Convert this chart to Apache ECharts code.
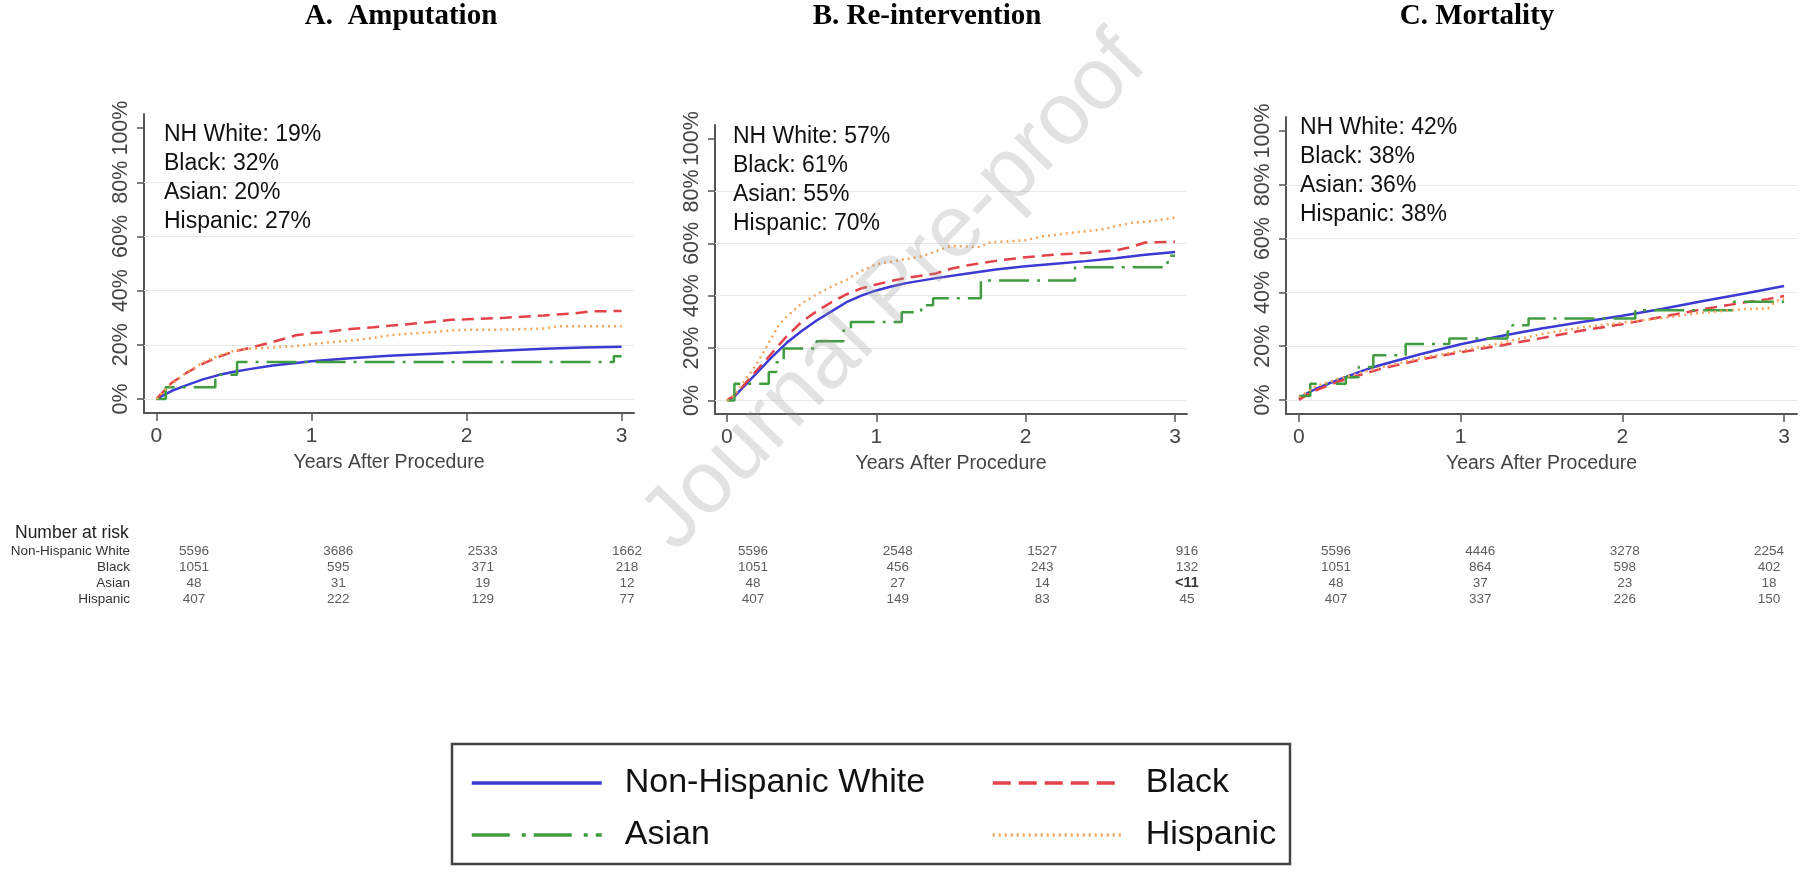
<!DOCTYPE html>
<html><head><meta charset="utf-8">
<script src="https://cdn.jsdelivr.net/npm/echarts@6/dist/echarts.min.js"></script>
<style>html,body{margin:0;padding:0;background:#fff}#c{width:1800px;height:878px}</style>
</head><body><div id="c"></div><script>
// ---------- data ----------
const groupNames = ['Non-Hispanic White', 'Black', 'Asian', 'Hispanic'];
const shortNames = ['NH White', 'Black', 'Asian', 'Hispanic'];
const panelTitles = ['A.  Amputation', 'B. Re-intervention', 'C. Mortality'];
const xTicks = [0, 1, 2, 3];
const yTicks = [0, 20, 40, 60, 80, 100];
const gridValues = [0, 20, 40, 60, 80];
const riskTimes = [0, 1, 2, 3];

const finalAmputation = [19, 32, 20, 27];
const finalReintervention = [57, 61, 55, 70];
const finalMortality = [42, 38, 36, 38];

// cumulative incidence (years, %)
const ampNHW = [[0,0],[0.05,1.5],[0.1,3],[0.2,5.2],[0.3,7.2],[0.4,8.8],[0.5,10],[0.6,11],[0.75,12.3],[0.9,13.3],[1.0,13.9],[1.25,15],[1.5,15.9],[1.75,16.6],[2.0,17.2],[2.25,17.9],[2.5,18.5],[2.75,19],[3.0,19.3]];
const ampBlack = [[0,0],[0.05,3],[0.1,6],[0.2,9.8],[0.3,13],[0.4,15.5],[0.5,17.5],[0.6,18.8],[0.75,21],[0.9,23.5],[1.0,24.3],[1.1,24.8],[1.25,25.8],[1.4,26.5],[1.6,27.5],[1.75,28.3],[1.9,29.2],[2.0,29.4],[2.25,30],[2.5,30.8],[2.7,31.6],[2.8,32.3],[3.0,32.5]];
const ampAsian = [[0,0],[0.06,4.3],[0.38,8.9],[0.52,13.6],[2.95,15.8],[3.0,15.8]];
const ampHisp = [[0,0],[0.05,3],[0.1,5.5],[0.2,10],[0.3,13.5],[0.4,16],[0.5,17.8],[0.6,18.5],[0.75,19],[0.9,19.5],[1.0,20.2],[1.1,20.8],[1.25,21.5],[1.4,22.5],[1.5,23.5],[1.6,24],[1.75,24.5],[1.9,25.3],[2.0,25.5],[2.25,25.6],[2.5,26],[2.6,26.8],[3.0,26.8]];

const reNHW = [[0,0],[0.05,1.5],[0.1,4.5],[0.2,10.5],[0.3,16.5],[0.4,22],[0.5,26.5],[0.6,30.5],[0.7,34],[0.8,37.5],[0.9,40],[1.0,42],[1.1,43.5],[1.2,44.8],[1.4,46.7],[1.6,48.4],[1.8,50],[2.0,51.2],[2.2,52.2],[2.4,53.2],[2.6,54.3],[2.8,55.6],[3.0,56.7]];
const reBlack = [[0,0],[0.05,2],[0.1,5],[0.2,11.5],[0.3,18],[0.4,24.5],[0.5,30],[0.6,34],[0.7,37.5],[0.8,40.5],[0.9,42.8],[1.0,44.3],[1.1,45.6],[1.2,46.8],[1.4,48.5],[1.5,50.3],[1.6,51.5],[1.8,53.3],[2.0,54.7],[2.2,55.7],[2.4,56.3],[2.6,57.3],[2.7,58.5],[2.8,60.3],[3.0,60.6]];
const reAsian = [[0,0],[0.05,6.4],[0.28,10.8],[0.33,14.6],[0.38,19.8],[0.6,22.6],[0.78,26.7],[0.83,29.9],[1.17,33.7],[1.3,36.3],[1.38,39],[1.7,45.8],[2.33,50.9],[2.95,55.3],[3.0,55.3]];
const reHisp = [[0,0],[0.05,2],[0.1,6],[0.2,14],[0.3,24],[0.35,29],[0.4,32],[0.5,37],[0.6,40.5],[0.7,43.5],[0.8,46],[0.9,49.5],[1.0,52],[1.1,53],[1.2,54],[1.3,55],[1.4,57],[1.5,59],[1.6,58.8],[1.7,58.6],[1.75,60.3],[1.9,60.8],[2.0,61.2],[2.1,62.5],[2.3,64],[2.5,65.2],[2.7,67.8],[2.85,68.5],[3.0,69.8]];

const morNHW = [[0,0.5],[0.05,2.5],[0.1,4],[0.2,6.5],[0.3,8.8],[0.4,11],[0.5,12.9],[0.75,17],[1.0,20.7],[1.25,23.8],[1.5,26.6],[1.75,29],[2.0,31.3],[2.25,33.9],[2.5,36.8],[2.75,39.5],[3.0,42.4]];
const morBlack = [[0,0],[0.05,2],[0.1,3.5],[0.25,7],[0.5,11.5],[0.75,15],[1.0,17.8],[1.25,20.3],[1.5,23],[1.75,25.8],[2.0,28.2],[2.25,31],[2.5,33.8],[2.75,36.2],[2.9,37.5],[3.0,38.7]];
const morAsian = [[0,1.5],[0.07,6],[0.29,8.5],[0.37,12.3],[0.46,16.6],[0.66,20.8],[0.93,22.9],[1.29,25.5],[1.32,27.8],[1.42,30.3],[2.08,33.4],[2.69,36.5],[3.0,36.5]];
const morHisp = [[0,1],[0.05,3],[0.1,5],[0.25,8],[0.5,12],[0.75,15.5],[1.0,18.3],[1.25,21.2],[1.5,24.5],[1.75,27],[2.0,28.8],[2.25,30.5],[2.5,32.5],[2.75,33.8],[2.9,34],[2.95,36.8],[3.0,37.6]];

// number at risk (rows: NHW, Black, Asian, Hispanic; cols: year 0..3)
const riskAmputation = [[5596,3686,2533,1662],[1051,595,371,218],[48,31,19,12],[407,222,129,77]];
const riskReintervention = [[5596,2548,1527,916],[1051,456,243,132],[48,27,14,'<11'],[407,149,83,45]];
const riskMortality = [[5596,4446,3278,2254],[1051,864,598,402],[48,37,23,18],[407,337,226,150]];

// ---------- style ----------
const SANS = '"Liberation Sans",Arial,sans-serif';
const SERIF = '"Liberation Serif","Times New Roman",serif';
const colors = ['#3b3bd4', '#e3424a', '#3f9c3f', '#f2a55a'];
const dashes = ['solid', [12, 7], [30, 8, 3, 8], [2, 4]];
const legendDashes = ['solid', [18, 8], [38, 12, 4, 8], [2, 4]];
const AX = '#555';

const panels = [
  {curves:[ampNHW, ampBlack, ampAsian, ampHisp], finals: finalAmputation, risk: riskAmputation,
   grid:{left:144, top:114, width:490, height:299}, ann:{x:164, y:120}, tgrid:{left:194, width:433}, tx:401},
  {curves:[reNHW, reBlack, reAsian, reHisp], finals: finalReintervention, risk: riskReintervention,
   grid:{left:715, top:125, width:472, height:289}, ann:{x:733, y:122}, tgrid:{left:753, width:434}, tx:927},
  {curves:[morNHW, morBlack, morAsian, morHisp], finals: finalMortality, risk: riskMortality,
   grid:{left:1286, top:117, width:511, height:297}, ann:{x:1300, y:113}, tgrid:{left:1336, width:433}, tx:1477}
];

const grids = [], xAxes = [], yAxes = [], series = [], graphics = [];

panels.forEach((p, i) => {
  grids.push(Object.assign({containLabel:false}, p.grid));
  xAxes.push({
    gridIndex:i, type:'value', min:-0.08, max:3.08,
    axisLine:{show:true, onZero:false, lineStyle:{color:AX, width:2}},
    axisTick:{show:true, customValues:xTicks, length:8, lineStyle:{color:AX, width:1.5}},
    axisLabel:{customValues:xTicks, margin:13, fontSize:21, fontFamily:SANS, color:'#444'},
    splitLine:{show:false},
    name:'Years After Procedure', nameLocation:'middle', nameGap:40,
    nameTextStyle:{fontSize:19.5, fontFamily:SANS, color:'#444'}
  });
  yAxes.push({
    gridIndex:i, type:'value', min:-5.2, max:105.2,
    axisLine:{show:true, onZero:false, lineStyle:{color:AX, width:2}},
    axisTick:{show:true, customValues:yTicks, length:7, lineStyle:{color:AX, width:1.5}},
    axisLabel:{customValues:yTicks, rotate:90, margin:12, formatter:'{value}%', fontSize:21.5, fontFamily:SANS, color:'#444'},
    splitLine:{show:false}
  });
  p.curves.forEach((d, k) => {
    const s = {
      type:'line', name:groupNames[k], xAxisIndex:i, yAxisIndex:i, data:d,
      symbol:'none', showSymbol:false, silent:true,
      lineStyle:{color:colors[k], width:2.5, type:dashes[k]},
      itemStyle:{color:colors[k]}, z: 3
    };
    if (k === 2) s.step = 'end';
    if (k === 0) {
      s.markLine = {
        silent:true, symbol:['none','none'], label:{show:false}, animation:false, z:1,
        lineStyle:{color:'#e8e8e8', width:1.2, type:'solid'},
        data: gridValues.map(v => ({yAxis:v}))
      };
    }
    series.push(s);
  });
  graphics.push({
    type:'text', x:p.ann.x, y:p.ann.y, silent:true, z:50,
    style:{text: shortNames.map((n, k) => n + ': ' + p.finals[k] + '%').join('\n'),
      font:'23px ' + SANS, fill:'#111', lineHeight:29, align:'left', verticalAlign:'top'}
  });
  graphics.push({
    type:'text', x:p.tx, y:17, silent:true,
    style:{text:panelTitles[i], font:'bold 29px ' + SERIF, fill:'#000', align:'center', verticalAlign:'middle'}
  });
});

// number-at-risk tables
panels.forEach((p, i) => {
  const gi = 3 + i;
  grids.push({left:p.tgrid.left, width:p.tgrid.width, top:543, height:64});
  xAxes.push({gridIndex:gi, type:'value', min:0, max:3, show:false});
  yAxes.push({
    gridIndex:gi, type:'category', data:groupNames, inverse:true, show: i === 0,
    axisLine:{show:false}, axisTick:{show:false}, splitLine:{show:false},
    axisLabel:{interval:0, margin:64, fontSize:13.5, fontFamily:SANS, color:'#333'}
  });
  const data = [];
  p.risk.forEach((row, r) => row.forEach((v, t) => {
    const item = {name:String(v), value:[riskTimes[t], groupNames[r]]};
    if (typeof v === 'string') item.label = {fontWeight:'bold', color:'#000', fontSize:14.5};
    data.push(item);
  }));
  series.push({
    type:'scatter', name:'risk' + i, xAxisIndex:gi, yAxisIndex:gi, data:data, silent:true,
    symbolSize:1, itemStyle:{color:'rgba(0,0,0,0)'},
    label:{show:true, position:'inside', formatter:'{b}', fontSize:13.5, fontFamily:SANS, color:'#333'},
    labelLayout:{hideOverlap:false}
  });
});

graphics.push({
  type:'text', x:15, y:533, silent:true,
  style:{text:'Number at risk', font:'17.5px ' + SANS, fill:'#222', align:'left', verticalAlign:'middle'}
});
graphics.push({
  type:'rect', silent:true, shape:{x:452, y:744, width:838, height:120},
  style:{fill:'none', stroke:'#444', lineWidth:2.5}
});
graphics.push({
  type:'text', x:895, y:293, rotation:0.8, silent:true, z:100,
  style:{text:'Journal Pre-proof', font:'88px ' + SANS, fill:'rgba(150,150,150,0.28)', align:'center', verticalAlign:'middle'}
});

const legendBase = {
  orient:'vertical', top:758, itemWidth:130, itemHeight:14, itemGap:12, selectedMode:false,
  itemStyle:{opacity:0},
  textStyle:{fontSize:34, lineHeight:40, fontFamily:SANS, color:'#111', padding:[0,0,0,18]}
};
const legendItem = k => ({name:groupNames[k], lineStyle:{width:3.5, type:legendDashes[k], color:colors[k]}, itemStyle:{opacity:0}});

const chart = echarts.init(document.getElementById('c'), null, {renderer:'canvas'});
chart.setOption({
  animation:false,
  backgroundColor:'#fff',
  grid:grids, xAxis:xAxes, yAxis:yAxes, series:series,
  legend:[
    Object.assign({}, legendBase, {left:465, data:[legendItem(0), legendItem(2)]}),
    Object.assign({}, legendBase, {left:986, data:[legendItem(1), legendItem(3)]})
  ],
  graphic:{elements:graphics}
});
</script></body></html>
